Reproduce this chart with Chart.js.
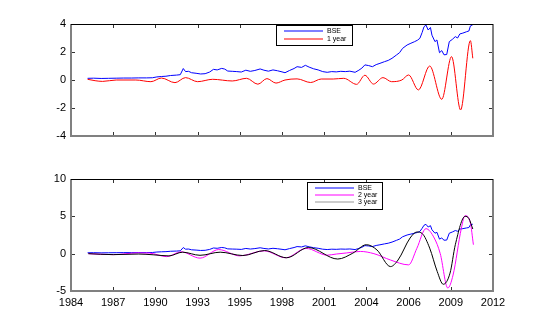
<!DOCTYPE html>
<html>
<head>
<meta charset="utf-8">
<script src="https://cdn.jsdelivr.net/npm/chart.js@4/dist/chart.umd.min.js"></script>
<style>
  html, body { margin: 0; padding: 0; background: #fff; }
  #wrap { position: relative; width: 545px; height: 327px; }
  #top { position: absolute; left: 0; top: 0; }
  #bottom { position: absolute; left: 0; top: 160px; }
</style>
</head>
<body>
<div id="wrap">
  <canvas id="top" width="545" height="160"></canvas>
  <canvas id="bottom" width="545" height="167"></canvas>
</div>
<script>
// Datos de la figura

var xTickLabels = ['1984', '1987', '1990', '1993', '1995', '1998', '2001', '2004', '2006', '2009', '2012'];
var xMin = 1984, xMax = 2012;

var topYTicks = [-4, -2, 0, 2, 4];
var bottomYTicks = [-5, 0, 5, 10];

// Serie BSE
var bseYears = [1985.1, 1985.5, 1986.0, 1986.5, 1987.0, 1987.5, 1988.0, 1988.5, 1989.0, 1989.4,
  1989.7, 1990.0, 1990.3, 1990.6, 1991.0, 1991.25, 1991.45, 1991.6, 1991.8, 1992.0,
  1992.3, 1992.6, 1992.9, 1993.2, 1993.45, 1993.7, 1994.0, 1994.2, 1994.4, 1994.7,
  1995.0, 1995.3, 1995.6, 1995.9, 1996.2, 1996.55, 1996.8, 1997.1, 1997.4, 1997.7,
  1998.0, 1998.2, 1998.5, 1998.8, 1999.0, 1999.3, 1999.55, 1999.8, 2000.1, 2000.4,
  2000.7, 2001.0, 2001.3, 2001.6, 2001.9, 2002.2, 2002.5, 2002.85, 2003.1, 2003.3,
  2003.5, 2003.75, 2004.0, 2004.25, 2004.5, 2004.8, 2005.05, 2005.3, 2005.6, 2005.8,
  2006.0, 2006.3, 2006.5, 2006.8, 2007.0, 2007.15, 2007.3, 2007.42, 2007.55, 2007.7,
  2007.85, 2007.95, 2008.15, 2008.28, 2008.45, 2008.6, 2008.75, 2008.93, 2009.1, 2009.3,
  2009.5, 2009.65, 2009.8, 2010.0, 2010.25, 2010.4, 2010.5, 2010.66];
var bseValues = [0.12, 0.13, 0.11, 0.12, 0.13, 0.14, 0.14, 0.15, 0.15, 0.16,
  0.22, 0.25, 0.27, 0.32, 0.35, 0.38, 0.82, 0.6, 0.62, 0.52,
  0.48, 0.43, 0.45, 0.57, 0.76, 0.72, 0.83, 0.78, 0.64, 0.62,
  0.6, 0.57, 0.7, 0.62, 0.68, 0.79, 0.7, 0.63, 0.72, 0.66,
  0.58, 0.52, 0.68, 0.82, 0.95, 0.9, 1.05, 0.92, 0.8, 0.72,
  0.6, 0.55, 0.6, 0.58, 0.62, 0.6, 0.63, 0.55, 0.7, 0.85,
  1.08, 1.03, 0.95, 1.1, 1.19, 1.31, 1.4, 1.55, 1.79, 1.95,
  2.26, 2.5, 2.6, 2.74, 2.85, 2.98, 3.4, 3.8, 3.93, 3.57,
  3.75, 3.2, 2.74, 2.86, 1.95, 2.1, 1.8, 1.82, 2.74, 2.9,
  3.1, 3.0, 3.29, 3.35, 3.45, 3.5, 3.86, 3.95];

// Ciclo de 1 año
var oneYearYears = [1985.1, 1985.6, 1986.1, 1987.0, 1988.3, 1989.3, 1990.0, 1990.9, 1991.6, 1992.4,
  1993.4, 1994.7, 1995.65, 1996.4, 1997.0, 1997.6, 1998.2, 1999.0, 1999.9, 2000.6,
  2001.4, 2002.1, 2002.95, 2003.5, 2004.07, 2004.7, 2005.27, 2005.95, 2006.4, 2007.05,
  2007.8, 2008.6, 2009.25, 2009.85, 2010.5, 2010.66];
var oneYearValues = [0.05, -0.05, -0.1, 0.0, 0.0, -0.12, 0.14, -0.19, 0.17, -0.12,
  0.05, -0.07, 0.12, -0.3, 0.1, -0.22, 0.0, 0.08, -0.18, 0.07,
  0.07, 0.12, -0.31, 0.34, -0.29, 0.17, -0.12, 0.0, 0.36, -0.71,
  1.0, -1.38, 1.67, -2.14, 2.81, 1.55];

// Ciclo de 2 años
var twoYearYears = [1985.15, 1986.8, 1988.4, 1989.2, 1990.35, 1991.3, 1992.56, 1993.8, 1995.2, 1996.8,
  1998.25, 1999.6, 2001.0, 2001.6, 2002.3, 2003.2, 2004.1, 2005.2, 2006.4, 2006.95,
  2007.55, 2008.1, 2008.5, 2009.0, 2009.35, 2009.9, 2010.15, 2010.5, 2010.7];
var twoYearValues = [0.0, -0.13, 0.1, 0.08, -0.4, 0.25, -0.6, 0.55, -0.3, 0.38,
  -0.55, 0.7, -0.2, -0.05, 0.1, 0.3, 0.0, -0.85, -1.5, 0.72,
  3.35, 2.1, 0.0, -4.6, -2.86, 3.4, 5.1, 4.1, 1.2];

// Ciclo de 3 años
var threeYearYears = [1985.15, 1986.8, 1988.5, 1989.45, 1990.5, 1991.4, 1992.56, 1993.9, 1995.4, 1996.85,
  1998.3, 1999.75, 2001.7, 2002.7, 2003.6, 2004.3, 2005.2, 2005.7, 2006.5, 2006.95,
  2007.3, 2007.8, 2008.3, 2008.7, 2009.15, 2009.5, 2010.15, 2010.4, 2010.66];
var threeYearValues = [0.0, -0.13, -0.05, -0.15, -0.3, 0.2, -0.22, 0.2, -0.25, 0.42,
  -0.55, 0.82, -0.72, 0.07, 1.2, 0.5, -1.73, -0.85, 2.1, 2.9,
  2.7, 0.74, -2.4, -4.1, -2.6, 1.2, 5.0, 4.7, 3.3];

function toPoints(xs, ys) {
  return xs.map(function (x, i) { return { x: x, y: ys[i] }; });
}

Chart.defaults.font.family = '"Liberation Sans", Arial, Helvetica, sans-serif';
Chart.defaults.font.size = 11;
Chart.defaults.color = '#000';

// Ejes al estilo MATLAB: caja, marcas hacia adentro y leyenda con borde
var matlabAxes = {
  id: 'matlabAxes',
  afterDraw: function (chart, args, opts) {
    var ctx = chart.ctx, a = chart.chartArea;
    var x = chart.scales.x, y = chart.scales.y;
    var tl = 4;
    ctx.save();
    ctx.strokeStyle = '#333';
    ctx.lineWidth = 1;
    ctx.beginPath();
    x.ticks.forEach(function (t) {
      var px = Math.round(x.getPixelForValue(t.value)) + 0.5;
      ctx.moveTo(px, a.bottom); ctx.lineTo(px, a.bottom - tl);
      ctx.moveTo(px, a.top); ctx.lineTo(px, a.top + tl);
    });
    y.ticks.forEach(function (t) {
      var py = Math.round(y.getPixelForValue(t.value)) + 0.5;
      ctx.moveTo(a.left, py); ctx.lineTo(a.left + tl, py);
      ctx.moveTo(a.right, py); ctx.lineTo(a.right - tl, py);
    });
    ctx.stroke();

    // caja
    ctx.strokeStyle = '#808080';
    ctx.lineWidth = 2;
    ctx.beginPath();
    ctx.moveTo(a.left, a.top); ctx.lineTo(a.left, a.bottom);
    ctx.lineTo(a.right, a.bottom); ctx.lineTo(a.right, a.top);
    ctx.stroke();
    ctx.strokeStyle = '#000';
    ctx.lineWidth = 1;
    ctx.beginPath();
    ctx.moveTo(a.left, a.top + 0.5); ctx.lineTo(a.right, a.top + 0.5);
    ctx.stroke();

    // leyenda
    var b = opts.box;
    ctx.fillStyle = '#fff';
    ctx.fillRect(b.x, b.y, b.w, b.h);
    ctx.strokeStyle = '#000';
    ctx.lineWidth = 1;
    ctx.strokeRect(b.x + 0.5, b.y + 0.5, b.w, b.h);
    ctx.font = '7px "Liberation Sans", Arial, sans-serif';
    ctx.textBaseline = 'middle';
    ctx.textAlign = 'left';
    chart.data.datasets.forEach(function (ds, i) {
      var ry = b.y + b.pad + i * b.row;
      ctx.strokeStyle = ds.legendColor;
      ctx.lineWidth = 1.2;
      ctx.beginPath();
      ctx.moveTo(b.x + 8, ry); ctx.lineTo(b.x + 47, ry);
      ctx.stroke();
      ctx.fillStyle = '#000';
      ctx.fillText(ds.label, b.x + 51, ry + 0.5);
    });
    ctx.restore();
  }
};

function xAxis(showLabels, height) {
  return {
    type: 'linear',
    min: xMin,
    max: xMax,
    grid: { display: false, drawTicks: false },
    border: { display: false },
    afterBuildTicks: function (scale) {
      scale.ticks = xTickLabels.map(function (l, i) {
        return { value: xMin + i * (xMax - xMin) / (xTickLabels.length - 1) };
      });
    },
    ticks: {
      display: showLabels,
      padding: 5,
      maxRotation: 0,
      autoSkip: false,
      callback: function (v, i) { return xTickLabels[i]; }
    },
    afterFit: function (scale) { scale.height = height; }
  };
}

function yAxis(tickValues) {
  return {
    type: 'linear',
    min: tickValues[0],
    max: tickValues[tickValues.length - 1],
    grid: { display: false, drawTicks: false },
    border: { display: false },
    afterBuildTicks: function (scale) {
      scale.ticks = tickValues.map(function (v) { return { value: v }; });
    },
    ticks: { padding: 5 },
    afterFit: function (scale) { scale.width = 71; }
  };
}

var lineStyle = { borderWidth: 1, pointRadius: 0, fill: false };

new Chart(document.getElementById('top').getContext('2d'), {
  type: 'line',
  data: {
    datasets: [
      Object.assign({ label: 'BSE', data: toPoints(bseYears, bseValues), borderColor: '#0000ff', legendColor: '#0000ff', order: 2, tension: 0 }, lineStyle),
      Object.assign({ label: '1 year', data: toPoints(oneYearYears, oneYearValues), borderColor: '#ff0000', legendColor: '#ff0000', order: 1, cubicInterpolationMode: 'monotone' }, lineStyle)
    ]
  },
  options: {
    responsive: false,
    animation: false,
    layout: { padding: { top: 24, right: 52, left: 0, bottom: 0 } },
    scales: { x: xAxis(false, 24), y: yAxis(topYTicks) },
    plugins: {
      legend: { display: false },
      tooltip: { enabled: false },
      matlabAxes: {
        box: { x: 276, y: 25, w: 76, h: 20, pad: 6, row: 8 }
      }
    }
  },
  plugins: [matlabAxes]
});

new Chart(document.getElementById('bottom').getContext('2d'), {
  type: 'line',
  data: {
    datasets: [
      Object.assign({ label: 'BSE', data: toPoints(bseYears, bseValues), borderColor: '#0000ff', legendColor: '#0000ff', order: 3, tension: 0 }, lineStyle),
      Object.assign({ label: '2 year', data: toPoints(twoYearYears, twoYearValues), borderColor: '#ff00ff', legendColor: '#ff00ff', order: 2, cubicInterpolationMode: 'monotone' }, lineStyle),
      Object.assign({ label: '3 year', data: toPoints(threeYearYears, threeYearValues), borderColor: '#000000', legendColor: '#999999', order: 1, cubicInterpolationMode: 'monotone' }, lineStyle)
    ]
  },
  options: {
    responsive: false,
    animation: false,
    layout: { padding: { top: 19, right: 52, left: 0, bottom: 0 } },
    scales: { x: xAxis(true, 36), y: yAxis(bottomYTicks) },
    plugins: {
      legend: { display: false },
      tooltip: { enabled: false },
      matlabAxes: {
        box: { x: 307, y: 22, w: 75, h: 27, pad: 6, row: 7 }
      }
    }
  },
  plugins: [matlabAxes]
});
</script>
</body>
</html>
